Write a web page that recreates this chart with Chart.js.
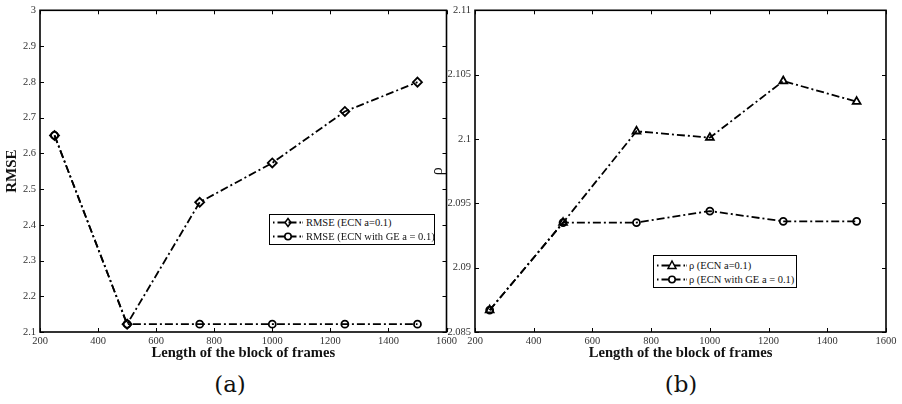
<!DOCTYPE html>
<html>
<head>
<meta charset="utf-8">
<script src="https://cdn.jsdelivr.net/npm/chart.js@4"></script>
<style>
  body { margin: 0; background: #fff; width: 902px; height: 404px; overflow: hidden; position: relative; font-family: 'Liberation Serif', 'Times New Roman', serif; }
  .wrap { position: absolute; top: 0; }
  .legend { position: absolute; border: 1.4px solid #000; background: #fff; font-size: 10.5px; color: #111; }
  .legend .row { position: absolute; left: 0; display: flex; align-items: center; white-space: nowrap; }
  .legend svg { display: block; }
  .caption { position: absolute; top: 371px; font-size: 23px; color: #111; transform: translateX(-50%); font-family: 'DejaVu Serif', serif; font-weight: 300; }
</style>
</head>
<body>
<div class="wrap" style="left:0;width:460px;height:362px"><canvas id="chartA"></canvas></div>
<div class="wrap" style="left:430px;width:470px;height:362px"><canvas id="chartB"></canvas></div>

<div class="legend" style="left:269px;top:214px;width:164px;height:29px">
  <div class="row" style="top:1px"><svg width="36" height="13" id="legA1"></svg><span>RMSE (ECN a=0.1)</span></div>
  <div class="row" style="top:15px"><svg width="36" height="13" id="legA2"></svg><span>RMSE (ECN with GE a = 0.1)</span></div>
</div>
<div class="legend" style="left:653px;top:255px;width:142px;height:31px">
  <div class="row" style="top:3px"><svg width="35" height="13" id="legB1"></svg><span>ρ (ECN a=0.1)</span></div>
  <div class="row" style="top:17px"><svg width="35" height="13" id="legB2"></svg><span>ρ (ECN with GE a = 0.1)</span></div>
</div>

<div class="caption" style="left:230px">(a)</div>
<div class="caption" style="left:681px">(b)</div>

<script>
// data
const frameLengths = [250, 500, 750, 1000, 1250, 1500];
const rmseEcn = [2.65, 2.122, 2.463, 2.573, 2.717, 2.799];
const rmseEcnGe = [2.65, 2.122, 2.122, 2.122, 2.122, 2.122];
const rhoEcn = [2.0867, 2.0935, 2.1006, 2.1001, 2.1045, 2.1029];
const rhoEcnGe = [2.0867, 2.0935, 2.0935, 2.0944, 2.0936, 2.0936];

const xTicks = [200, 400, 600, 800, 1000, 1200, 1400, 1600];
const rmseTicks = [2.1, 2.2, 2.3, 2.4, 2.5, 2.6, 2.7, 2.8, 2.9, 3];
const rhoTicks = [2.085, 2.09, 2.095, 2.1, 2.105, 2.11];

const serif = "'Liberation Serif', 'Times New Roman', serif"
const dashDot = [8, 3, 2, 3];

function pts(ys) {
  return frameLengths.map((x, i) => ({ x: x, y: ys[i] }))
}

function series(label, ys, marker, radius) {
  return {
    label: label,
    data: pts(ys),
    borderColor: '#000',
    borderWidth: 1.8,
    borderDash: dashDot,
    pointStyle: marker,
    pointRadius: radius,
    pointBorderWidth: 1.8,
    pointBorderColor: '#000',
    pointBackgroundColor: 'rgba(255,255,255,0)',
    tension: 0,
    fill: false
  }
}

// matlab style box with inward ticks
const boxPlugin = {
  id: 'box',
  afterDraw(chart) {
    const ctx = chart.ctx
    const a = chart.chartArea
    const xs = chart.scales.x
    const ys = chart.scales.y
    ctx.save()
    ctx.strokeStyle = '#000'
    ctx.lineWidth = 1
    ctx.beginPath()
    xs.ticks.forEach(t => {
      const px = Math.round(xs.getPixelForValue(t.value)) + 0.5
      ctx.moveTo(px, a.bottom); ctx.lineTo(px, a.bottom - 4)
      ctx.moveTo(px, a.top); ctx.lineTo(px, a.top + 4)
    })
    ys.ticks.forEach(t => {
      const py = Math.round(ys.getPixelForValue(t.value)) + 0.5
      ctx.moveTo(a.left, py); ctx.lineTo(a.left + 4, py)
      ctx.moveTo(a.right, py); ctx.lineTo(a.right - 4, py)
    })
    ctx.stroke()
    ctx.lineWidth = 1.6
    ctx.strokeRect(a.left, a.top, a.right - a.left, a.bottom - a.top)
    ctx.restore()
  }
}

const tickFont = { family: serif, size: 10.5 }
const fmt = v => String(+Number(v).toFixed(3))

function makeChart(id, datasets, yMin, yMax, yTicks, yTitle, yTitleFont, titlePad, yWidth, pad) {
  return new Chart(document.getElementById(id), {
    type: 'line',
    data: { datasets: datasets },
    plugins: [boxPlugin],
    options: {
      responsive: true,
      maintainAspectRatio: false,
      animation: false,
      layout: { padding: pad },
      plugins: { legend: { display: false }, tooltip: { enabled: false } },
      scales: {
        x: {
          type: 'linear',
          min: 200,
          max: 1600,
          afterBuildTicks: s => { s.ticks = xTicks.map(v => ({ value: v })) },
          afterFit: s => { s.height = 30 },
          grid: { display: false, drawTicks: false },
          border: { display: false },
          ticks: { font: tickFont, color: '#333', padding: 3, maxRotation: 0, callback: fmt },
          title: {
            display: true,
            text: 'Length of the block of frames',
            color: '#111',
            font: { family: serif, size: 14.6, weight: 'bold', lineHeight: 1 },
            padding: { top: 0, bottom: 1 }
          }
        },
        y: {
          type: 'linear',
          min: yMin,
          max: yMax,
          afterBuildTicks: s => { s.ticks = yTicks.map(v => ({ value: v })) },
          afterFit: s => { s.width = yWidth },
          grid: { display: false, drawTicks: false },
          border: { display: false },
          ticks: { font: tickFont, color: '#333', padding: 4, callback: fmt },
          title: {
            display: true,
            text: yTitle,
            color: '#111',
            font: yTitleFont,
            padding: { top: titlePad, bottom: 0 }
          }
        }
      }
    }
  })
}

makeChart('chartA', [
  series('RMSE (ECN a=0.1)', rmseEcn, 'rectRot', 4.5),
  series('RMSE (ECN with GE a = 0.1)', rmseEcnGe, 'circle', 3.5)
], 2.1, 3, rmseTicks, 'RMSE',
  { family: serif, size: 15, weight: 'bold', lineHeight: 1 }, 5, 40,
  { top: 10, right: 12, bottom: 0, left: 0 })

makeChart('chartB', [
  series('ρ (ECN a=0.1)', rhoEcn, 'triangle', 4.5),
  series('ρ (ECN with GE a = 0.1)', rhoEcnGe, 'circle', 3.5)
], 2.085, 2.11, rhoTicks, 'ρ',
  { family: serif, size: 16, lineHeight: 1 }, 0, 45,
  { top: 8, right: 14, bottom: 0, left: 0 })

// legend samples
function sample(id, marker) {
  const svg = document.getElementById(id)
  const y = 6.5
  let m = ''
  if (marker === 'diamond') m = `<polygon points="18,${y - 4} 21,${y} 18,${y + 4} 15,${y}" fill="none" stroke="#000" stroke-width="1.5"/>`
  if (marker === 'circle') m = `<circle cx="18" cy="${y}" r="3.2" fill="#fff" stroke="#000" stroke-width="1.6"/>`
  if (marker === 'triangle') m = `<polygon points="18,${y - 4.5} 22,${y + 3} 14,${y + 3}" fill="#fff" stroke="#000" stroke-width="1.5"/>`
  svg.innerHTML = `<line x1="3" y1="${y}" x2="33" y2="${y}" stroke="#000" stroke-width="1.8" stroke-dasharray="1.5 3 8 3 8 3 1.5"/>` + m
}
sample('legA1', 'diamond')
sample('legA2', 'circle')
sample('legB1', 'triangle')
sample('legB2', 'circle')
</script>
</body>
</html>
